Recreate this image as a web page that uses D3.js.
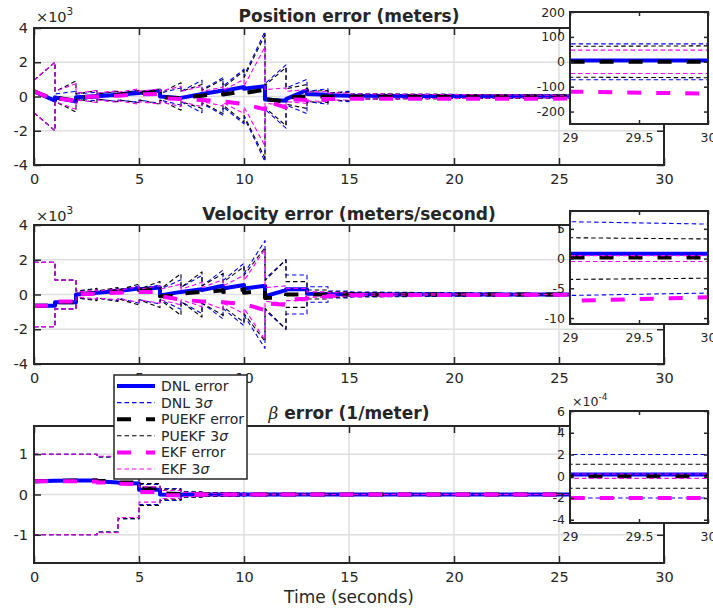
<!DOCTYPE html>
<html>
<head>
<meta charset="utf-8">
<script src="https://cdn.jsdelivr.net/npm/d3@7"></script>
<style>
body { margin: 0; background: #fff; }
svg text { font-family: "DejaVu Sans", sans-serif; fill: #262626; }
</style>
</head>
<body>
<svg id="chart" width="713" height="611"></svg>
<script>
// sample times: start, then (just before, just after) each update, then the tail
const times = [0, 1,1, 2,2, 3,3, 4,4, 5,5, 6,6, 7,7, 8,8, 9,9, 10,10, 11,11, 12,12, 13,13, 14,14, 15,15, 29, 30];

// position (meters)
const posDnlErr = [300, -250,-50, -300,-50, 20,20, 100,100, 200,200, 330,0, -100,-80, 150,150, 350,330, 550,450, 600,-180, -250,-150, 380,150, 100,80, 50,40, 5, 5];
const posDnlSig = [950, 2000,150, 300,150, 250,150, 300,200, 350,200, 400,200, 500,300, 950,400, 1100,600, 1600,1200, 3800,750, 1850,500, 1000,300, 450,200, 300,150, 72, 72];
const posPueErr = [300, -200,-50, -250,-50, 0,0, 100,100, 200,200, 300,-50, -100,-60, 50,50, 200,120, 300,200, 400,-150, -300,-50, 0,0, 0,0, 0,0, 0, 0];
const posPueSig = [950, 2000,300, 900,150, 350,150, 300,200, 350,200, 450,200, 800,300, 700,350, 1000,500, 1500,1100, 3600,650, 1700,450, 700,300, 350,200, 250,150, 62, 64];
const posEkfErr = [300, -200,-100, -250,-50, 0,0, 50,50, 120,120, 150,-100, -150,-150, -200,-200, -280,-280, -450,-450, -750,-250, -650,-150, -200,-130, -150,-140, -140,-135, -120, -128];
const posEkfSig = [950, 2000,300, 750,200, 350,200, 350,250, 450,300, 450,300, 600,300, 600,300, 550,350, 1000,600, 2900,400, 500,300, 400,250, 300,200, 200,150, 47, 47];

// velocity (meters/second)
const velDnlErr = [-650, -650,-450, -450,0, 100,100, 200,200, 350,300, 400,-50, 150,150, 300,250, 500,350, 550,350, 500,-100, 250,300, 300,50, 30,20, 10,10, 0.8, 0.8];
const velDnlSig = [1850, 1850,830, 830,200, 300,200, 350,200, 500,300, 550,300, 850,400, 1100,500, 1400,800, 1800,1200, 3100,900, 2000,1120, 1120,450, 450,200, 200,150, 6.2, 5.8];
const velPueErr = [-650, -650,-450, -450,0, 100,100, 200,200, 300,250, 350,-100, -80,50, 150,100, 250,150, 300,100, 250,-200, -150,0, 0,0, 0,0, 0,0, 0.2, 0.2];
const velPueSig = [1850, 1850,830, 830,200, 350,200, 400,250, 600,300, 750,300, 1200,400, 1300,500, 1200,700, 1600,1100, 2700,800, 2000,740, 740,260, 260,150, 150,100, 3.5, 3.3];
const velEkfErr = [-650, -650,-400, -400,0, 50,50, 100,100, 150,150, 150,-100, -300,-300, -400,-400, -450,-450, -550,-550, -900,-500, -600,-300, -250,-150, -120,-80, -50,-40, -7.1, -6.5];
const velEkfSig = [1850, 1850,830, 830,150, 250,200, 300,250, 450,300, 500,300, 600,300, 700,400, 850,500, 1100,800, 2600,400, 500,350, 350,150, 150,100, 100,50, 0.5, 0.5];

// beta (1/meter)
const betaDnlErr = [0.33, 0.34,0.34, 0.35,0.35, 0.35,0.33, 0.30,0.29, 0.27,0.12, 0.12,0.0, -0.02,0, 0,0, 0,0, 0,0, 0,0, 0,0, 0,0, 0,0, 0,0, 0.000015, 0.000015];
const betaDnlSig = [1.0, 1.0,1.0, 1.0,1.0, 1.0,0.93, 0.93,0.6, 0.6,0.25, 0.25,0.15, 0.15,0.07, 0.07,0.05, 0.05,0.04, 0.04,0.03, 0.03,0.03, 0.03,0.02, 0.02,0.02, 0.02,0.02, 0.02,0.01, 0.0002, 0.0002];
const betaPueErr = [0.33, 0.34,0.34, 0.35,0.35, 0.35,0.34, 0.33,0.30, 0.30,0.15, 0.15,0.03, 0.01,0, 0,0, 0,0, 0,0, 0,0, 0,0, 0,0, 0,0, 0,0, 0, 0];
const betaPueSig = [1.0, 1.0,1.0, 1.0,1.0, 1.0,0.93, 0.93,0.6, 0.6,0.27, 0.27,0.13, 0.13,0.06, 0.06,0.04, 0.04,0.03, 0.03,0.02, 0.02,0.02, 0.02,0.015, 0.015,0.01, 0.01,0.01, 0.01,0.008, 0.00011, 0.00011];
const betaEkfErr = [0.33, 0.33,0.33, 0.33,0.33, 0.32,0.30, 0.29,0.27, 0.26,0.06, 0.06,-0.02, -0.02,0, 0,0, 0,0, 0,0, 0,0, 0,0, 0,0, 0,0, 0,0, -0.0002, -0.0002];
const betaEkfSig = [1.0, 1.0,1.0, 1.0,1.0, 1.0,0.95, 0.95,0.57, 0.57,0.19, 0.19,0.1, 0.1,0.05, 0.05,0.03, 0.03,0.02, 0.02,0.015, 0.015,0.01, 0.01,0.01, 0.01,0.008, 0.008,0.006, 0.006,0.005, 0.00002, 0.00002];

const seriesNames = ['DNL error', 'DNL 3', 'PUEKF error', 'PUEKF 3', 'EKF error', 'EKF 3'];
const xTicksMain = [0, 5, 10, 15, 20, 25, 30];
const xTicksInset = [29, 29.5, 30];

const styles = [
    {color: '#0000ff', width: 4, dash: null, sigma: false},
    {color: '#0000ff', width: 1.1, dash: '4.5,3', sigma: true},
    {color: '#000000', width: 4, dash: '14,15', sigma: false},
    {color: '#000000', width: 1.1, dash: '4.5,3', sigma: true},
    {color: '#ff00ff', width: 4, dash: '14,15', sigma: false},
    {color: '#ff00ff', width: 1.1, dash: '4.5,3', sigma: true}
];

const svg = d3.select('#chart');
let clipCount = 0;

function drawAxes(opt) {
    const g = svg.append('g');
    const [x0, x1] = opt.xRange;
    const [y0, y1] = opt.yRange;
    const x = d3.scaleLinear().domain(opt.xDomain).range([x0, x1]);
    const y = d3.scaleLinear().domain(opt.yDomain).range([y1, y0]);

    g.append('rect')
    .attr('x', x0).attr('y', y0)
    .attr('width', x1 - x0).attr('height', y1 - y0)
    .attr('fill', '#fff');

    if (opt.grid) {
        g.selectAll('.vgrid')
        .data(opt.xTicks.filter(d => d > opt.xDomain[0] && d < opt.xDomain[1]))
        .enter().append('line')
        .attr('x1', d => x(d)).attr('x2', d => x(d))
        .attr('y1', y0).attr('y2', y1)
        .attr('stroke', '#dedede').attr('stroke-width', 1.5);
        g.selectAll('.hgrid')
        .data(opt.yTicks.filter(d => d > opt.yDomain[0] && d < opt.yDomain[1]))
        .enter().append('line')
        .attr('x1', x0).attr('x2', x1)
        .attr('y1', d => y(d)).attr('y2', d => y(d))
        .attr('stroke', '#dedede').attr('stroke-width', 1.5);
    }

    const clipId = 'clip' + (clipCount++);
    g.append('clipPath').attr('id', clipId)
    .append('rect')
    .attr('x', x0).attr('y', y0)
    .attr('width', x1 - x0).attr('height', y1 - y0);

    const plot = g.append('g').attr('clip-path', `url(#${clipId})`);
    const line = d3.line()
    .x((d, i) => x(times[i]))
    .y(d => y(d));

    opt.series.forEach((vals, k) => {
        const st = styles[k];
        const sets = st.sigma ? [vals, vals.map(v => -v)] : [vals];
        sets.forEach(s => {
            plot.append('path')
            .attr('d', line(s))
            .attr('fill', 'none')
            .attr('stroke', st.color)
            .attr('stroke-width', st.width)
            .attr('stroke-dasharray', st.dash)
            .attr('stroke-linejoin', 'round');
        });
    });

    const tl = opt.tickLen;
    const fmtX = opt.xFormat || (d => String(d));
    const fmtY = opt.yFormat || (d => String(d));

    const axB = g.append('g').attr('transform', `translate(0,${y1})`)
    .call(d3.axisBottom(x).tickValues(opt.xTicks).tickSize(-tl).tickSizeOuter(0)
        .tickPadding(opt.xPad).tickFormat(fmtX));
    const axT = g.append('g').attr('transform', `translate(0,${y0})`)
    .call(d3.axisTop(x).tickValues(opt.xTicks).tickSize(-tl).tickSizeOuter(0).tickFormat(''));
    const axL = g.append('g').attr('transform', `translate(${x0},0)`)
    .call(d3.axisLeft(y).tickValues(opt.yTicks).tickSize(-tl).tickSizeOuter(0)
        .tickPadding(opt.yPad).tickFormat(fmtY));
    const axR = g.append('g').attr('transform', `translate(${x1},0)`)
    .call(d3.axisRight(y).tickValues(opt.yTicks).tickSize(-tl).tickSizeOuter(0).tickFormat(''));

    [axB, axT, axL, axR].forEach(a => {
        a.select('.domain').remove();
        a.selectAll('line').attr('stroke', '#262626').attr('stroke-width', 1.5);
        a.selectAll('text')
        .attr('font-family', '"DejaVu Sans", sans-serif')
        .attr('font-size', opt.fontSize)
        .attr('fill', '#262626');
    });

    g.append('rect')
    .attr('x', x0).attr('y', y0)
    .attr('width', x1 - x0).attr('height', y1 - y0)
    .attr('fill', 'none')
    .attr('stroke', '#262626')
    .attr('stroke-width', 2);

    return g;
}

function mainPanel(series, yDomain, yTicks, yFormat, yRange) {
    return drawAxes({
        series: series,
        xDomain: [0, 30], xRange: [34, 664],
        yDomain: yDomain, yRange: yRange,
        xTicks: xTicksMain, yTicks: yTicks,
        yFormat: yFormat,
        grid: true, tickLen: 7, xPad: 9, yPad: 6, fontSize: 14.5
    });
}

function insetPanel(series, yDomain, yTicks, yFormat, yRange) {
    return drawAxes({
        series: series,
        xDomain: [29, 30], xRange: [570, 708],
        yDomain: yDomain, yRange: yRange,
        xTicks: xTicksInset, yTicks: yTicks,
        yFormat: yFormat,
        grid: false, tickLen: 4, xPad: 9, yPad: 5, fontSize: 12.5
    });
}

function multiplier(xp, yp, exp, size) {
    const t = svg.append('text')
    .attr('x', xp).attr('y', yp)
    .attr('font-size', size)
    .text('\u00d710');
    t.append('tspan')
    .attr('dy', -size * 0.45)
    .attr('font-size', size * 0.72)
    .text(exp);
}

function title(yp, content) {
    svg.append('text')
    .attr('x', 349).attr('y', yp)
    .attr('text-anchor', 'middle')
    .attr('font-size', 17)
    .attr('font-weight', 'bold')
    .text(content);
}

const kFmt = d => String(d / 1000);

// Position
title(22, 'Position error (meters)');
mainPanel([posDnlErr, posDnlSig, posPueErr, posPueSig, posEkfErr, posEkfSig],
    [-4000, 4000], [-4000, -2000, 0, 2000, 4000], kFmt, [28, 165]);
multiplier(36, 22, '3', 14.5);
insetPanel([posDnlErr, posDnlSig, posPueErr, posPueSig, posEkfErr, posEkfSig],
    [-250, 200], [-200, -100, 0, 100, 200], null, [12, 124]);

// Velocity
title(220, 'Velocity error (meters/second)');
mainPanel([velDnlErr, velDnlSig, velPueErr, velPueSig, velEkfErr, velEkfSig],
    [-4000, 4000], [-4000, -2000, 0, 2000, 4000], kFmt, [225, 364]);
multiplier(36, 221, '3', 14.5);
insetPanel([velDnlErr, velDnlSig, velPueErr, velPueSig, velEkfErr, velEkfSig],
    [-11, 8], [-10, -5, 0, 5], null, [211, 324]);

// Beta
const bt = svg.append('text')
.attr('x', 349).attr('y', 419)
.attr('text-anchor', 'middle')
.attr('font-size', 17);
bt.append('tspan').attr('font-style', 'italic').attr('font-family', '"DejaVu Serif", serif').text('\u03b2');
bt.append('tspan').attr('font-weight', 'bold').text(' error (1/meter)');
mainPanel([betaDnlErr, betaDnlSig, betaPueErr, betaPueSig, betaEkfErr, betaEkfSig],
    [-1.7, 1.7], [-1, 0, 1], null, [426, 563]);
insetPanel([betaDnlErr, betaDnlSig, betaPueErr, betaPueSig, betaEkfErr, betaEkfSig],
    [-4.3e-4, 6e-4], [-4e-4, -2e-4, 0, 2e-4, 4e-4, 6e-4], d => String(Math.round(d * 1e4)), [411, 523]);
multiplier(572, 406, '-4', 12.5);

svg.append('text')
.attr('x', 349).attr('y', 603)
.attr('text-anchor', 'middle')
.attr('font-size', 17)
.text('Time (seconds)');

// Legend
const legend = svg.append('g');
legend.append('rect')
.attr('x', 114).attr('y', 375)
.attr('width', 133).attr('height', 104)
.attr('fill', '#fff')
.attr('stroke', '#262626')
.attr('stroke-width', 1.5);

const entries = legend.selectAll('.entry')
.data(seriesNames)
.enter().append('g')
.attr('transform', (d, i) => `translate(0,${386 + i * 16.6})`);

entries.append('line')
.attr('x1', 117).attr('x2', 155)
.attr('y1', 0).attr('y2', 0)
.attr('stroke', (d, i) => styles[i].color)
.attr('stroke-width', (d, i) => styles[i].width)
.attr('stroke-dasharray', (d, i) => styles[i].dash);

const lt = entries.append('text')
.attr('x', 161).attr('y', 0).attr('dy', '0.36em')
.attr('font-size', 14)
.text(d => d);
lt.filter((d, i) => styles[i].sigma)
.append('tspan')
.attr('font-style', 'italic')
.text('\u03c3');
</script>
</body>
</html>
